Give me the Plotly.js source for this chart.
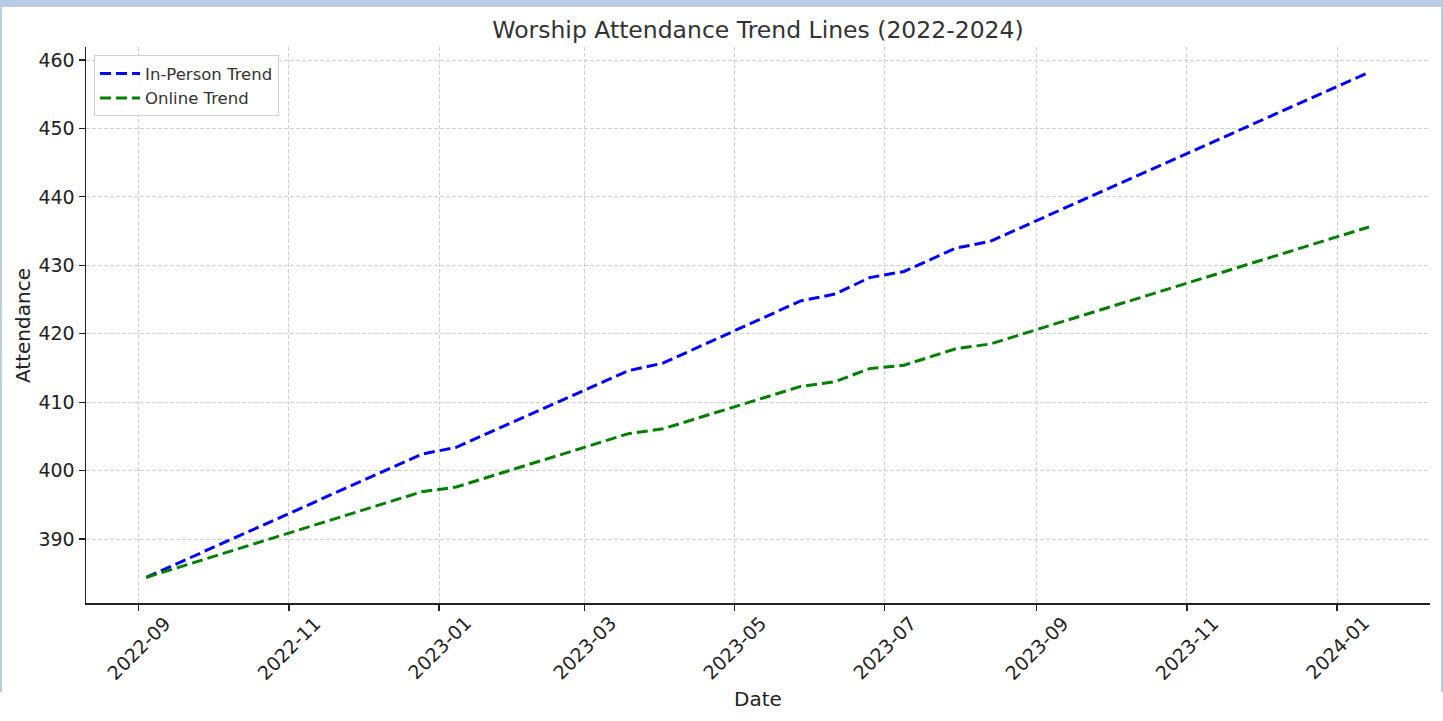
<!DOCTYPE html>
<html>
<head>
<meta charset="utf-8">
<script src="https://cdn.plot.ly/plotly-3.0.1.min.js"></script>
<style>
  html, body { margin: 0; padding: 0; background: #ffffff; }
  #wrap { position: relative; width: 1443px; height: 721px; overflow: hidden; }
  #chart { position: absolute; left: 0; top: 0; width: 1443px; height: 721px; }
  .frame { position: absolute; background: #b8cce4; z-index: 5; }
</style>
</head>
<body>
<div id="wrap">
  <div id="chart"></div>
  <div class="frame" style="left:0;top:0;width:1443px;height:7px;"></div>
  <div class="frame" style="left:0;top:0;width:2px;height:692px;"></div>
  <div class="frame" style="left:1441px;top:0;width:2px;height:692px;"></div>
</div>
<script>
// Dates at which the trend lines change direction
const dates = [
  "2022-09-04", "2022-12-25", "2023-01-08", "2023-03-19", "2023-04-02",
  "2023-05-28", "2023-06-11", "2023-06-25", "2023-07-09", "2023-07-30",
  "2023-08-13", "2024-01-14"
];
const inPersonTrend = [384.4, 402.4, 403.4, 414.6, 415.7, 424.8, 425.8, 428.2, 429.1, 432.5, 433.5, 458.2];
const onlineTrend   = [384.4, 396.9, 397.6, 405.4, 406.1, 412.3, 413.0, 414.9, 415.4, 417.8, 418.5, 435.6];
const seriesNames = ["In-Person Trend", "Online Trend"];
const xTickVals = ["2022-09-01","2022-11-01","2023-01-01","2023-03-01","2023-05-01","2023-07-01","2023-09-01","2023-11-01","2024-01-01"];
const xTickText = ["2022-09","2022-11","2023-01","2023-03","2023-05","2023-07","2023-09","2023-11","2024-01"];
const yTickVals = [390, 400, 410, 420, 430, 440, 450, 460];

const FONT = "DejaVu Sans, Liberation Sans, sans-serif";
const TXT = "#222222";

const traces = [
  { x: dates, y: inPersonTrend, name: seriesNames[0], type: "scatter", mode: "lines",
    line: { color: "#0000ff", width: 3, dash: "11px,5px" } },
  { x: dates, y: onlineTrend, name: seriesNames[1], type: "scatter", mode: "lines",
    line: { color: "#008000", width: 3, dash: "11px,5px" } }
];

// Rotated x tick labels centred on their ticks (matplotlib style)
const annotations = xTickVals.map((v, i) => ({
  x: v, xref: "x", y: -0.081, yref: "paper",
  text: xTickText[i], showarrow: false, textangle: -45,
  xanchor: "center", yanchor: "middle",
  font: { family: FONT, size: 19, color: TXT }
}));
annotations.push({
  x: 0.5, xref: "paper", y: -0.1727, yref: "paper", text: "Date", showarrow: false,
  xanchor: "center", yanchor: "middle", font: { family: FONT, size: 20, color: TXT }
});
annotations.push({
  x: -0.0469, xref: "paper", y: 0.5, yref: "paper", text: "Attendance", showarrow: false,
  textangle: -90, xanchor: "center", yanchor: "middle", font: { family: FONT, size: 20, color: TXT }
});

const layout = {
  width: 1443, height: 721,
  paper_bgcolor: "#ffffff", plot_bgcolor: "#ffffff",
  margin: { l: 86, r: 13, t: 47, b: 118, pad: 0 },
  font: { family: FONT, color: TXT, size: 19 },
  title: { text: "Worship Attendance Trend Lines (2022-2024)", x: 0.5, xref: "paper",
           y: 1 - 30 / 721, yref: "container", yanchor: "middle",
           font: { family: FONT, size: 23.5, color: "#333333" } },
  showlegend: true,
  legend: { x: 0.006, y: 0.985, xanchor: "left", yanchor: "top",
            bgcolor: "rgba(255,255,255,0.85)", bordercolor: "#d0d0d0", borderwidth: 1,
            itemwidth: 40,
            font: { family: FONT, size: 16.5, color: "#333333" }, tracegroupgap: 2 },
  annotations: annotations,
  xaxis: {
    type: "date",
    range: ["2022-08-10 12:00", "2024-02-07 19:00"],
    tickvals: xTickVals, showticklabels: false,
    showline: true, linecolor: TXT, linewidth: 1.5, mirror: false,
    ticks: "outside", ticklen: 6, tickwidth: 1.2, tickcolor: TXT,
    showgrid: true, gridcolor: "#d0d0d0", gridwidth: 1, griddash: "4px,2px",
    zeroline: false
  },
  yaxis: {
    range: [380.65, 461.9],
    tickvals: yTickVals,
    tickfont: { family: FONT, size: 19, color: TXT },
    showline: true, linecolor: TXT, linewidth: 1.5, mirror: false,
    ticks: "outside", ticklen: 6, tickwidth: 1.2, tickcolor: TXT,
    showgrid: true, gridcolor: "#d0d0d0", gridwidth: 1, griddash: "4px,2px",
    zeroline: false
  }
};

Plotly.newPlot("chart", traces, layout, { displayModeBar: false, staticPlot: true });
</script>
</body>
</html>
